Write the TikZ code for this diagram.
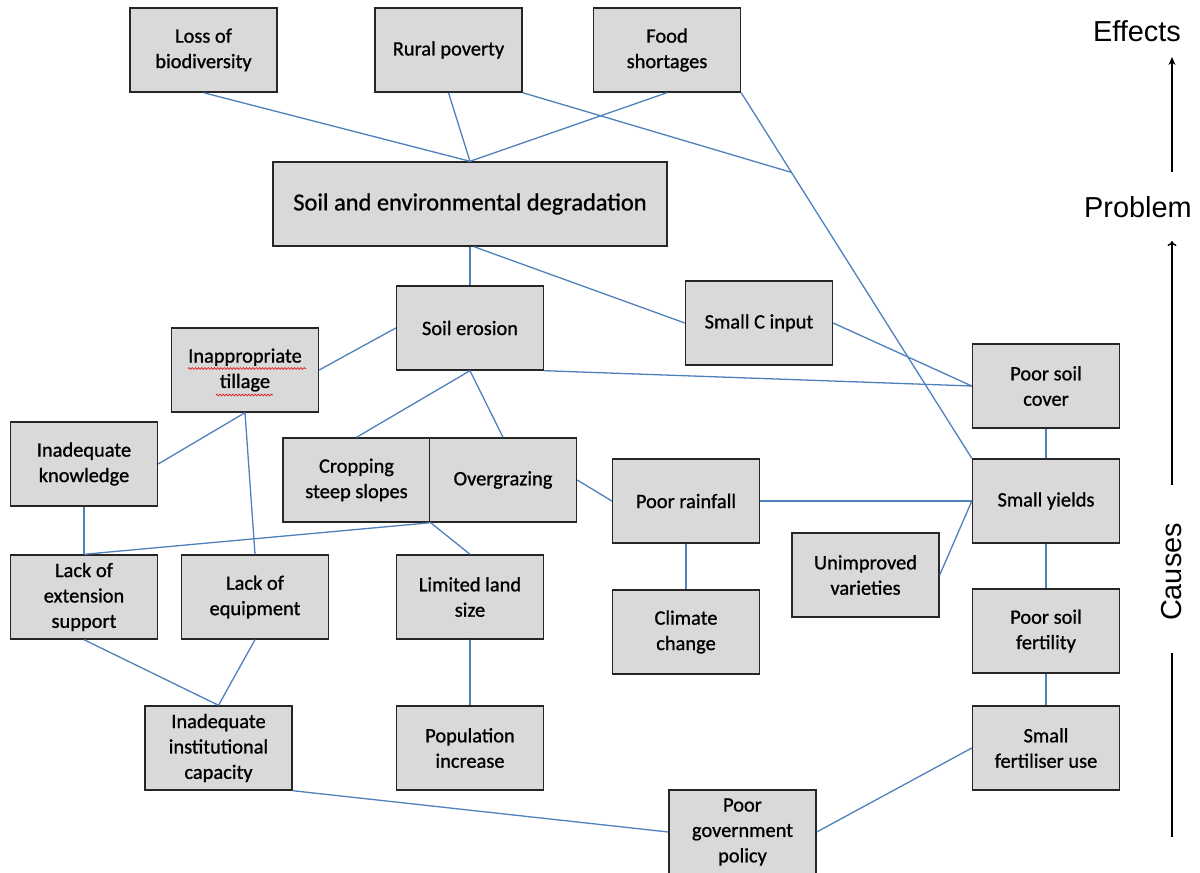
\documentclass[tikz,border=0pt]{standalone}
\usepackage{fontspec}
\setmainfont{Carlito}
\newfontfamily\boxfont{Carlito}[FakeBold=0.9]
\newfontfamily\arialf{Liberation Sans}
\usetikzlibrary{calc,arrows.meta,decorations.pathmorphing}
\definecolor{boxgray}{HTML}{D9D9D9}
\definecolor{linkblue}{HTML}{4F81BD}
\definecolor{squig}{HTML}{E02020}
\tikzset{
  cbox/.style={draw=black!85, fill=boxgray, line width=1.4bp, minimum width=147bp,
    minimum height=84bp, inner sep=0pt, align=center,
    font=\boxfont\fontsize{20.5}{25.5}\selectfont},
  link/.style={draw=linkblue, line width=1.3bp},
  side/.style={font=\arialf\fontsize{29}{32}\selectfont, inner sep=0pt},
  sidearrow/.style={draw=black, line width=1.4bp},
  spell/.style={draw=squig, line width=0.7bp, decorate,
    decoration={snake, amplitude=0.9bp, segment length=3.2bp}}
}
\begin{document}
\begin{tikzpicture}[x=1bp,y=-1bp]
\useasboundingbox[fill=white] (0,0) rectangle (1200,873);

% effects
\node[cbox] (loss)  at (203.5,50) {Loss of\\biodiversity};
\node[cbox] (rural) at (448.5,50) {Rural poverty};
\node[cbox] (food)  at (667,50)   {Food\\shortages};
% problem
\node[cbox, minimum width=394bp, font=\boxfont\fontsize{24.5}{28}\selectfont] (soil) at (470,204) {Soil and environmental degradation};
% causes
\node[cbox] (erosion) at (470,328)   {Soil erosion};
\node[cbox] (cinput)  at (759,323)   {Small C input};
\node[cbox] (tillage) at (245,370)   {Inappropriate\\tillage};
\node[cbox] (cover)   at (1046,386)  {Poor soil\\cover};
\node[cbox] (know)    at (84,464)    {Inadequate\\knowledge};
\node[cbox] (crop)    at (356.5,480) {Cropping\\steep slopes};
\node[cbox] (graze)   at (503,480)   {Overgrazing};
\node[cbox] (rain)    at (686,501)   {Poor rainfall};
\node[cbox] (yield)   at (1046,501)  {Small yields};
\node[cbox] (unimp)   at (865.5,575) {Unimproved\\varieties};
\node[cbox] (ext)     at (84,597)    {Lack of\\extension\\support};
\node[cbox] (equip)   at (255,597)   {Lack of\\equipment};
\node[cbox] (land)    at (470,597)   {Limited land\\size};
\node[cbox] (climate) at (686,632)   {Climate\\change};
\node[cbox] (fert)    at (1046,631)  {Poor soil\\fertility};
\node[cbox] (inst)    at (218.5,748) {Inadequate\\institutional\\capacity};
\node[cbox] (pop)     at (470,748)   {Population\\increase};
\node[cbox] (fuse)    at (1046,748)  {Small\\fertiliser use};
\node[cbox] (policy)  at (742.5,832) {Poor\\government\\policy};

% spell-check squiggles
\draw[spell] (188,368.5) -- (306,368.5);
\draw[spell] (216,395) -- (273,395);

% connectors
\draw[link] (loss.south) -- (soil.north);
\draw[link] (rural.south) -- (soil.north);
\draw[link] (food.south) -- (soil.north);
\draw[link] (food.south east) -- (yield.north west);
\coordinate (j) at ($(food.south east)!0.218!(yield.north west)$);
\draw[link] (rural.south east) -- (j);
\draw[link] (soil.south) -- (erosion.north);
\draw[link] ($(soil.south)+(4,0)$) -- (cinput.west);
\draw[link] (cinput.east) -- (cover.west);
\draw[link] (erosion.south east) -- (cover.west);
\draw[link] (erosion.west) -- (tillage.east);
\draw[link] (tillage.south) -- (know.east);
\draw[link] (tillage.south) -- (equip.north);
\draw[link] (erosion.south) -- (crop.north);
\draw[link] (erosion.south) -- (graze.north);
\draw[link] (graze.east) -- (rain.west);
\coordinate (m) at (crop.south east);
\draw[link] (m) -- (ext.north);
\draw[link] (m) -- (land.north);
\draw[link] (know.south) -- (ext.north);
\draw[link] (rain.east) -- (yield.west);
\draw[link] (rain.south) -- (climate.north);
\draw[link] (unimp.east) -- (yield.west);
\draw[link] (cover.south) -- (yield.north);
\draw[link] (yield.south) -- (fert.north);
\draw[link] (fert.south) -- (fuse.north);
\draw[link] (fuse.west) -- (policy.east);
\draw[link] (inst.south east) -- (policy.west);
\draw[link] (ext.south) -- (inst.north);
\draw[link] (equip.south) -- (inst.north);
\draw[link] (land.south) -- (pop.north);

% right-hand legend
\node[side] (effects) at (1137,31) {Effects};
\node[side] (problem) at (1138,207) {Problem};
\node[side, rotate=90] (causes) at (1172,572) {Causes};
\coordinate (e0) at (1172,172);
\coordinate (e1) at (1172,57);
\coordinate (p0) at (1172,485);
\coordinate (p1) at (1172,241);
\coordinate (c0) at (1172,653);
\coordinate (c1) at (1172,837);
\draw[sidearrow, -{Stealth[length=8bp,width=7bp]}] (e0) -- (e1);
\draw[sidearrow, -{To[length=5bp,width=9bp]}] (p0) -- (p1);
\draw[sidearrow] (c0) -- (c1);
\end{tikzpicture}
\end{document}
